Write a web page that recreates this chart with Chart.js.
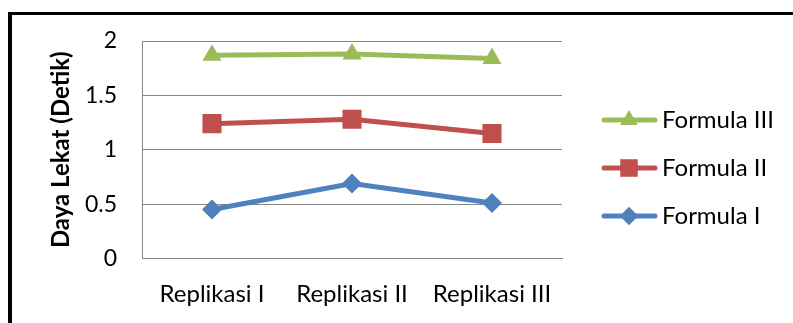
<!DOCTYPE html>
<html>
<head>
<meta charset="utf-8">
<script src="https://cdn.jsdelivr.net/npm/chart.js@4.4.1/dist/chart.umd.min.js"></script>
<style>
  html, body { margin: 0; padding: 0; background: #ffffff; }
  #wrap { width: 793px; height: 323px; position: relative; }
</style>
</head>
<body>
<div id="wrap"><canvas id="chart" width="793" height="323"></canvas></div>
<script>
// Categories and measured adhesion times (seconds)
const categories = ['Replikasi I', 'Replikasi II', 'Replikasi III'];
const formulaI   = [0.45, 0.69, 0.51];
const formulaII  = [1.24, 1.28, 1.15];
const formulaIII = [1.87, 1.88, 1.84];
const yTicks = [0, 0.5, 1, 1.5, 2];
const yTitle = 'Daya Lekat (Detik)';

const FONT = 'Lato, "Open Sans", sans-serif';

const datasets = [
  { label: 'Formula I',   data: formulaI,   borderColor: '#4F81BD', backgroundColor: '#4F81BD', pointStyle: 'rectRot',  pointRadius: 10 },
  { label: 'Formula II',  data: formulaII,  borderColor: '#C0504D', backgroundColor: '#C0504D', pointStyle: 'rect',     pointRadius: 13.5 },
  { label: 'Formula III', data: formulaIII, borderColor: '#9BBB59', backgroundColor: '#9BBB59', pointStyle: 'triangle', pointRadius: 11 }
].map(d => Object.assign(d, { borderWidth: 5, pointBorderWidth: 0, pointHoverRadius: d.pointRadius, tension: 0 }));

// Frame lines along the left and top of the canvas
const framePlugin = {
  id: 'frame',
  beforeDraw(chart) {
    const ctx = chart.ctx;
    ctx.save();
    ctx.fillStyle = '#ffffff';
    ctx.fillRect(0, 0, chart.width, chart.height);
    ctx.fillStyle = '#000000';
    ctx.fillRect(8, 12, 4, chart.height - 12);
    ctx.fillRect(8, 12, chart.width - 8, 3);
    ctx.restore();
  }
};

// Legend on the right: line with marker, listed from last series to first
const legendPlugin = {
  id: 'sideLegend',
  afterDraw(chart) {
    const ctx = chart.ctx;
    const rows = [120, 168, 216];
    const order = chart.data.datasets.slice().reverse();
    ctx.save();
    order.forEach((ds, i) => {
      const y = rows[i];
      ctx.strokeStyle = ds.borderColor;
      ctx.lineWidth = 5;
      ctx.lineCap = 'round';
      ctx.beginPath();
      ctx.moveTo(604, y);
      ctx.lineTo(655, y);
      ctx.stroke();
      ctx.fillStyle = ds.backgroundColor;
      ctx.strokeStyle = ds.backgroundColor;
      Chart.helpers.drawPoint(ctx, {
        pointStyle: ds.pointStyle, radius: ds.pointRadius * 0.92, borderWidth: 0, rotation: 0
      }, 629, y);
      ctx.fillStyle = '#000000';
      ctx.font = '24px ' + FONT;
      ctx.textBaseline = 'middle';
      ctx.textAlign = 'left';
      ctx.fillText(ds.label, 662, y);
    });
    ctx.restore();
  }
};

new Chart(document.getElementById('chart'), {
  type: 'line',
  data: { labels: categories, datasets },
  plugins: [framePlugin, legendPlugin],
  options: {
    responsive: false,
    animation: false,
    events: [],
    layout: { padding: { left: 0, top: 41, right: 231, bottom: 0 } },
    plugins: { legend: { display: false }, tooltip: { enabled: false } },
    scales: {
      x: {
        offset: true,
        grid: { display: false, drawTicks: false },
        border: { display: true, color: '#868686', width: 1 },
        ticks: { color: '#000000', font: { family: FONT, size: 24 }, padding: 21, maxRotation: 0 },
        afterFit(scale) { scale.height = 64.5; }
      },
      y: {
        min: 0, max: 2,
        afterBuildTicks(scale) { scale.ticks = yTicks.map(v => ({ value: v })); },
        grid: { color: '#868686', lineWidth: 1, drawTicks: false },
        border: { display: true, color: '#868686', width: 1 },
        ticks: { color: '#000000', font: { family: FONT, size: 23 }, padding: 25, callback: v => String(v) },
        title: { display: true, text: yTitle, color: '#000000', font: { family: FONT, size: 24, weight: 'bold' }, padding: { top: 47, bottom: 0 } },
        afterFit(scale) { scale.width = 142; }
      }
    }
  }
});
</script>
</body>
</html>
